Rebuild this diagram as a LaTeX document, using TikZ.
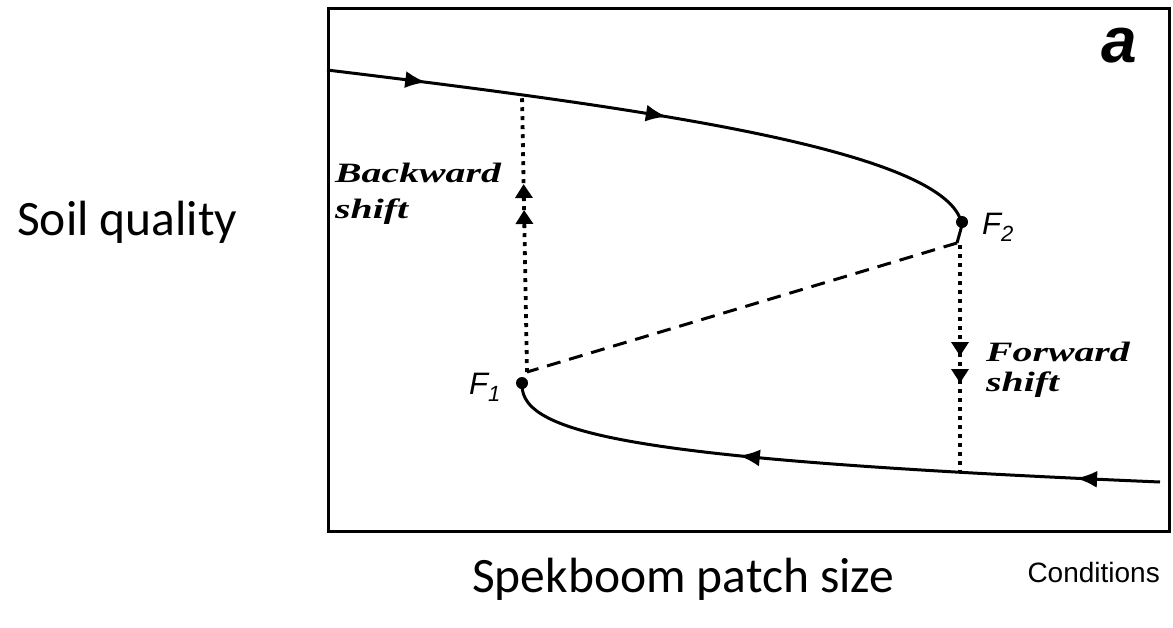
\documentclass[tikz,border=0pt]{standalone}
\usepackage{fontspec}
\setmainfont{Liberation Serif}
\newfontfamily\carl{Carlito}
\newfontfamily\arial{Liberation Sans}
\usetikzlibrary{arrows.meta,decorations.markings}
\begin{document}
\begin{tikzpicture}[x=1pt,y=-1pt,
  curve/.style={line width=3pt},
  dotline/.style={line width=3.8pt, dash pattern=on 3.8pt off 5.2pt},
  dashline/.style={line width=3pt, dash pattern=on 14pt off 9pt},
  bigtext/.style={font=\carl\fontsize{49.5}{49.5}\selectfont, inner sep=0pt},
  shifttext/.style={font=\bfseries\itshape\fontsize{28}{28}\selectfont, inner sep=0pt},
  flabel/.style={font=\arial\itshape\fontsize{31}{31}\selectfont, inner sep=0pt},
  fdot/.style={circle, fill=black, inner sep=0pt, minimum size=12pt}
]
\useasboundingbox (0,0) rectangle (1173,627);
\fill[white] (0,0) rectangle (1173,627);

% frame
\node[draw, line width=3pt, minimum width=841pt, minimum height=523pt, inner sep=0pt, anchor=north west] (frame) at (327,7) {};
\node[font=\arial\bfseries\itshape\fontsize{64}{64}\selectfont, inner sep=0pt, anchor=base] (lbla) at (1119,62) {a};

% key points
\coordinate (ustart) at (327,70);
\coordinate (F2c) at (962,225);
\coordinate (F2b) at (957,243);
\coordinate (F1b) at (527,372);
\coordinate (F1c) at (522,385);
\coordinate (lend) at (1160,482);
\coordinate (btop) at (522,95);
\coordinate (ftop) at (960,245);
\coordinate (fbot) at (960,472);

% upper stable branch
\draw[curve, postaction={decorate}, decoration={markings,
   mark=at position 100pt with {\arrow{Latex[length=21pt,width=17pt]}},
   mark=at position 343pt with {\arrow{Latex[length=21pt,width=17pt]}}}]
  (ustart) .. controls (640,108) and (950,150) .. (F2c) -- (F2b);
% unstable branch
\draw[dashline] (F2b) -- (F1b);
% lower stable branch
\draw[curve, postaction={decorate}, decoration={markings,
   mark=at position 84pt with {\arrow{Latex[length=21pt,width=17pt]}},
   mark=at position 422pt with {\arrow{Latex[length=21pt,width=17pt]}}}]
  (lend) .. controls (640,460) and (522,435) .. (F1c);

% fold points
\node[fdot] (F1) at (522,383) {};
\node[fdot] (F2) at (962,222) {};
\node[flabel, anchor=base west] (F1l) at (469,394) {F\raisebox{-7pt}{\fontsize{22}{22}\selectfont 1}};
\node[flabel, anchor=base west] (F2l) at (982,234) {F\raisebox{-7pt}{\fontsize{22}{22}\selectfont 2}};

% backward shift
\draw[dotline, postaction={decorate}, decoration={markings,
   mark=at position 162pt with {\arrow{Triangle[length=14pt,width=17pt]}},
   mark=at position 188pt with {\arrow{Triangle[length=14pt,width=17pt]}}}]
  (F1b) -- (btop);
\node[shifttext, anchor=base west] (bs1) at (335,182) {\scalebox{1.42}[1]{Backward}};
\node[shifttext, anchor=base west] (bs2) at (335,218) {\scalebox{1.42}[1]{shift}};

% forward shift
\draw[dotline, postaction={decorate}, decoration={markings,
   mark=at position 111pt with {\arrow{Triangle[length=14pt,width=17pt]}},
   mark=at position 138pt with {\arrow{Triangle[length=14pt,width=17pt]}}}]
  (ftop) -- (fbot);
\node[shifttext, anchor=base west] (fs1) at (986,361) {\scalebox{1.42}[1]{Forward}};
\node[shifttext, anchor=base west] (fs2) at (986,391) {\scalebox{1.42}[1]{shift}};

% outer labels
\node[bigtext, anchor=west] (soil) at (17,222) {Soil quality};
\node[bigtext, anchor=base west] (spek) at (472,592) {Spekboom patch size};
\node[font=\arial\fontsize{28}{28}\selectfont, inner sep=0pt, anchor=base east] (cond) at (1160,582) {Conditions};
\end{tikzpicture}
\end{document}
